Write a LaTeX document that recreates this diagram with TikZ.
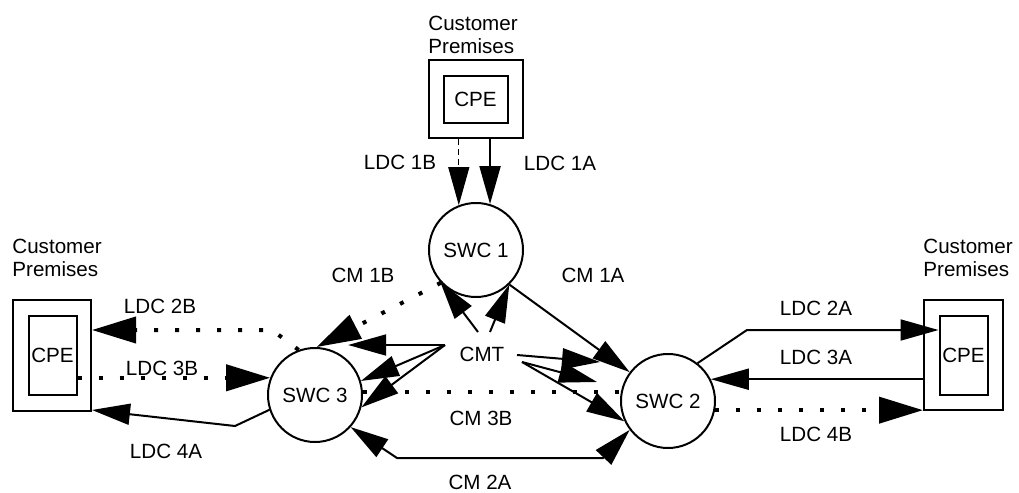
\documentclass[tikz,border=0pt]{standalone}
\usepackage{fontspec}
\setmainfont{Liberation Sans}
\usetikzlibrary{positioning,arrows.meta}

\begin{document}
\begin{tikzpicture}[
  x=0.5pt, y=-0.5pt,
  font=\fontsize{10.3}{11.5}\selectfont,
  tri/.tip={Triangle[length=19pt, width=10.5pt]},
  dtri/.tip={Triangle[length=22pt, width=13pt]},
  swc/.style={draw, circle, line width=1pt, minimum size=47pt, inner sep=0pt},
  site/.style={draw, line width=1pt, inner sep=0pt},
  cpe/.style={draw, line width=1pt, inner sep=0pt, minimum width=24pt, minimum height=39.5pt},
  prem/.style={align=left, inner sep=1pt},
  arr/.style={line width=1pt, -tri},
  dots/.style={line width=2pt, dash pattern=on 2pt off 8.5pt},
  darr/.style={dots, -dtri}
]
\useasboundingbox (0,0) rectangle (1019,493);
\node[swc] (sw1) at (476,250) {SWC 1};
\node[swc] (sw2) at (668,401) {SWC 2};
\node[swc] (sw3) at (315,395) {SWC 3};
\node (cmt) at (482,354) {CMT};
\node[site, minimum width=47pt, minimum height=39pt] (site1) at (476,99) {};
\node[cpe, minimum width=32pt, minimum height=23.5pt] (cpe1) at (475.5,99) {CPE};
\node[site, minimum width=39pt, minimum height=55.5pt] (site2) at (52,355.5) {};
\node[cpe] (cpe2) at (52.5,355) {CPE};
\node[site, minimum width=39.5pt, minimum height=55pt] (site3) at (963.5,355) {};
\node[cpe] (cpe3) at (963.5,355) {CPE};
\node[prem, above right=1.5pt and -1pt of site1.north west] (prem1) {Customer\\Premises};
\node[prem, above right=10pt and -1pt of site2.north west] (prem2) {Customer\\Premises};
\node[prem, above right=10pt and -1pt of site3.north west] (prem3) {Customer\\Premises};

\node (l1b) at (400,162) {LDC 1B};
\node (l1a) at (560,163) {LDC 1A};
\node (m1b) at (363,275) {CM 1B};
\node (m1a) at (593,275) {CM 1A};
\node (l2b) at (160,306) {LDC 2B};
\node (l3b) at (162,368) {LDC 3B};
\node (l4a) at (166,451) {LDC 4A};
\node (l2a) at (816,308) {LDC 2A};
\node (l3a) at (816,357) {LDC 3A};
\node (l4b) at (816,434) {LDC 4B};
\node (m3b) at (481,418) {CM 3B};
\node (m2a) at (480,482) {CM 2A};

\coordinate (b2b) at (272,330);
\coordinate (b4a) at (235,426);
\coordinate (b2a) at (747,330);
\coordinate (c2l) at (397,458);
\coordinate (c2r) at (603,458);
\coordinate (cl) at (445,345);
\coordinate (ct1) at (478,332);
\coordinate (ct2) at (490,332);
\coordinate (cr1) at (517,355);
\coordinate (cr2) at (522,362);
\coordinate (e1) at (600,362);
\coordinate (e2) at (597,382);

\draw[arr, line width=0.5pt, densely dashed] (sw1.111 |- site1.south) -- (sw1.111);
\draw[arr] (sw1.73 |- site1.south) -- (sw1.73);
\draw[darr] (sw3.110) -- (b2b) -- (b2b -| site2.east);
\draw[darr] (sw3.159 -| cpe2.east) -- (sw3.159);
\draw[arr] (sw3.198) -- (b4a) -- ([yshift=1pt]site2.south east);
\draw[arr] (sw2.52) -- (b2a) -- (b2a -| cpe3.west);
\draw[arr] (sw2.27 -| site3.west) -- (sw2.27);
\draw[darr] (sw2.-11) -- (sw2.-11 -| site3.west);
\draw[arr] (sw1.-46) -- (sw2.143);
\draw[darr] (sw1.223) -- (sw3.88);
\draw[dots] (sw3.3) -- (sw3.3 -| sw2.west);
\draw[arr, tri-tri] (sw3.-42) -- (c2l) -- (c2r) -- (sw2.217);
\draw[arr, shorten >=3.5pt] (cl) -- (cl -| sw3.57);
\draw[arr] (cl) -- (sw3.17);
\draw[arr] (cl) -- (sw3.-15);
\draw[arr] (ct1) -- (sw1.222);
\draw[arr] (ct2) -- (sw1.-46);
\draw[arr] (cr1) -- (e1);
\draw[arr] (cr2) -- (e2);
\draw[arr] (cr2) -- (sw2.205);
\end{tikzpicture}
\end{document}
